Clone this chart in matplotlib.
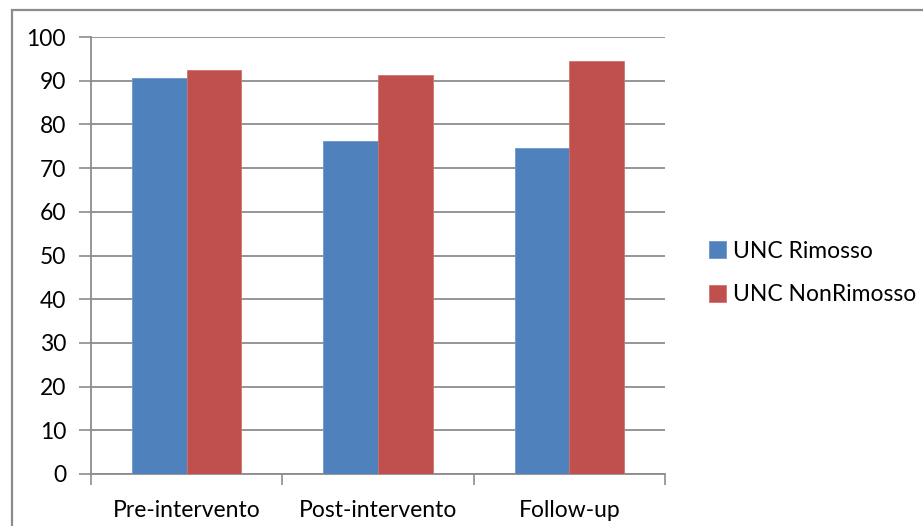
import numpy as np
import matplotlib.pyplot as plt
from matplotlib.patches import Rectangle

plt.rcParams['font.family'] = ['Lato', 'DejaVu Sans']

categories = ["Pre-intervento", "Post-intervento", "Follow-up"]
rimosso = [90.7, 76.3, 74.6]
non_rimosso = [92.5, 91.2, 94.4]
series_names = ["UNC Rimosso", "UNC NonRimosso"]

fig = plt.figure(figsize=(9.23, 5.26), dpi=100)
ax = fig.add_axes([91 / 923, 1 - 474 / 526, (665 - 91) / 923, (474 - 37) / 526])

x = np.arange(len(categories))
w = 1 / 3.5
b1 = ax.bar(x - w / 2, rimosso, w, color="#4F81BD", edgecolor="#6E95C8", linewidth=0.6, zorder=3)
b2 = ax.bar(x + w / 2, non_rimosso, w, color="#C0504D", edgecolor="#D07270", linewidth=0.6, zorder=3)

ax.set_xlim(-0.5, 2.5)
ax.set_ylim(0, 100)
ax.set_yticks(range(0, 101, 10))
ax.yaxis.grid(True, color="#8C8C8C", linewidth=1.3, zorder=0)
ax.set_xticks([-0.5, 0.5, 1.5, 2.5], minor=False)
ax.set_xticklabels([])
ax.set_xticks(x, minor=True)
ax.set_xticklabels(categories, minor=True)
ax.tick_params(axis="x", which="major", length=8, color="#8C8C8C", width=1.2)
ax.tick_params(axis="x", which="minor", length=0, pad=19, labelsize=16.5)
ax.tick_params(axis="y", length=9, color="#8C8C8C", width=1.2, labelsize=16.5, pad=9)

for side in ["top", "right"]:
    ax.spines[side].set_visible(False)
for side in ["left", "bottom"]:
    ax.spines[side].set_color("#8C8C8C")
    ax.spines[side].set_linewidth(1.3)

fig.legend([b1, b2], series_names, loc="center left",
           bbox_to_anchor=(688 / 923, 1 - 273 / 526), frameon=False,
           handlelength=0.75, handleheight=0.75, handletextpad=0.3,
           labelspacing=1.0, fontsize=16.5)

# outer chart frame
fig.patches.append(Rectangle((12 / 923, -0.1), 1.0, 1.1 - 10 / 526,
                             transform=fig.transFigure, fill=False,
                             edgecolor="#8C8C8C", linewidth=1.6))

fig.savefig("out.png", dpi=100)
